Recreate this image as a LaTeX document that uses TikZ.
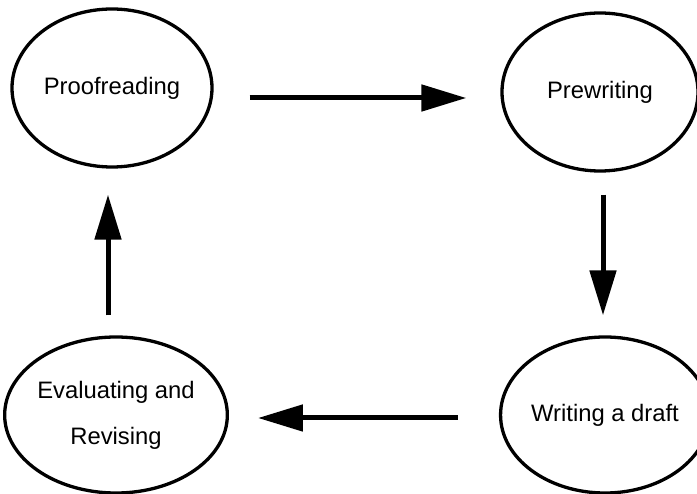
\documentclass[tikz,border=0pt]{standalone}
\usepackage{fontspec}
\setmainfont{Liberation Sans}
\usetikzlibrary{arrows.meta,shapes.geometric}
\tikzset{
  pnode/.style={ellipse,draw,line width=3.3pt,minimum width=200pt,minimum height=158pt,inner sep=0pt,align=center,font=\fontsize{23.8}{46}\selectfont},
  pe/.style={-{Triangle[length=45pt,width=26pt]},line width=5pt}
}
\begin{document}
\begin{tikzpicture}[x=1pt,y=-1pt]
\useasboundingbox (0,0) rectangle (697,494);
\node[pnode] (proof) at (112,88) {Proofreading};
\node[pnode,minimum width=196pt] (pre) at (600,92) {Prewriting};
\node[pnode,minimum width=196pt,minimum height=156pt] (draft) at (605,415) {Writing a draft};
\node[pnode,minimum height=156pt] (eval) at (116,415) {Evaluating and\\Revising};
\draw[pe] ([shift={(36,10)}]proof.east) -- ([shift={(-34,6)}]pre.west);
\draw[pe] ([shift={(3,22)}]pre.south) -- ([shift={(-2,-20)}]draft.north);
\draw[pe] ([shift={(-41,3)}]draft.west) -- ([shift={(29,3)}]eval.east);
\draw[pe] ([shift={(-8,-20)}]eval.north) -- ([shift={(-4,26)}]proof.south);
\end{tikzpicture}
\end{document}
